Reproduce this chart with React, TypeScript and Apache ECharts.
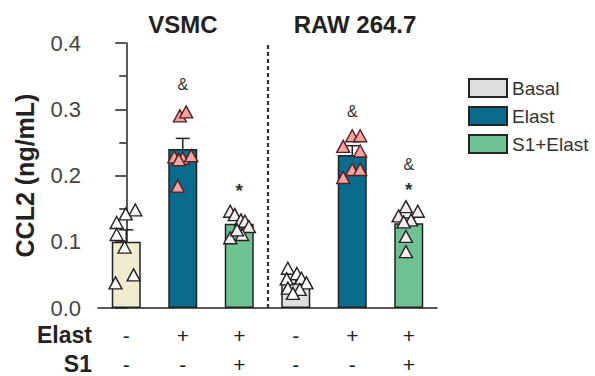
import React, { useEffect, useRef } from "react";
import * as echarts from "echarts";

// ---- data ----
const categories = ["VSMC Basal", "VSMC Elast", "VSMC S1+Elast", "RAW Basal", "RAW Elast", "RAW S1+Elast"];
const groupOf = ["Basal", "Elast", "S1+Elast", "Basal", "Elast", "S1+Elast"];
const barMeans = [0.100, 0.240, 0.127, 0.038, 0.231, 0.128];
const barSems = [0.018, 0.016, 0.006, 0.005, 0.014, 0.008];
const elastRow = ["-", "+", "+", "-", "+", "+"];
const s1Row = ["-", "-", "+", "-", "-", "+"];
const groupTitles = ["VSMC", "RAW 264.7"];
const legendNames = ["Basal", "Elast", "S1+Elast"];

// individual points (values) and horizontal jitter (in category units)
const vsmcBasalPts = [0.148, 0.142, 0.129, 0.111, 0.092, 0.050, 0.038];
const vsmcBasalJit = [0.16, -0.01, -0.17, -0.17, -0.03, 0.13, -0.19];
const vsmcElastPts = [0.290, 0.296, 0.228, 0.226, 0.230, 0.224, 0.184];
const vsmcElastJit = [-0.05, 0.06, -0.15, 0.0, 0.15, -0.07, -0.09];
const vsmcS1Pts = [0.146, 0.141, 0.133, 0.131, 0.123, 0.106, 0.111, 0.118];
const vsmcS1Jit = [-0.16, -0.08, 0.03, 0.10, 0.17, -0.16, 0.05, -0.04];
const rawBasalPts = [0.060, 0.052, 0.045, 0.044, 0.038, 0.030, 0.028, 0.022];
const rawBasalJit = [-0.14, 0.02, 0.10, -0.16, 0.19, -0.14, 0.07, -0.05];
const rawElastPts = [0.244, 0.260, 0.260, 0.237, 0.209, 0.209, 0.197];
const rawElastJit = [-0.16, 0.0, 0.14, 0.14, 0.0, 0.14, -0.16];
const rawS1Pts = [0.153, 0.146, 0.139, 0.133, 0.130, 0.108, 0.085];
const rawS1Jit = [-0.05, 0.16, -0.18, 0.04, -0.09, -0.05, -0.05];

const annoIndex = [1, 2, 4, 5, 5];
const annoValue = [0.338, 0.185, 0.297, 0.217, 0.186];
const annoText = ["&", "*", "&", "&", "*"];

// ---- styles ----
const groupColor: Record<string, string> = { Basal: "#dedede", Elast: "#0b6b8c", "S1+Elast": "#70c191" };
const vsmcBasalColor = "#f1ebd0";
const dark = "#222";
const FONT = "Liberation Sans, Arial, sans-serif";

export default function App() {
  const ref = useRef<HTMLDivElement>(null);
  useEffect(() => {
    if (!ref.current) return;
    const chart = echarts.init(ref.current, undefined, { renderer: "svg" });

    const barSeries = legendNames.map((name) => ({
      name,
      type: "bar",
      xAxisIndex: 0,
      yAxisIndex: 0,
      barWidth: 29,
      barGap: "-100%",
      itemStyle: { color: groupColor[name], borderColor: dark, borderWidth: 1.5 },
      data: barMeans.map((v, i) =>
        groupOf[i] !== name
          ? "-"
          : i === 0
          ? { value: v, itemStyle: { color: vsmcBasalColor } }
          : v
      ),
      z: 2,
    }));

    const ptsGroups = [
      { idx: 0, pts: vsmcBasalPts, jit: vsmcBasalJit, fill: "#ffffff", stroke: "#222" },
      { idx: 1, pts: vsmcElastPts, jit: vsmcElastJit, fill: "#f2a3a3", stroke: "#5a2020" },
      { idx: 2, pts: vsmcS1Pts, jit: vsmcS1Jit, fill: "#f7edf1", stroke: "#222" },
      { idx: 3, pts: rawBasalPts, jit: rawBasalJit, fill: "#ffffff", stroke: "#222" },
      { idx: 4, pts: rawElastPts, jit: rawElastJit, fill: "#f2a3a3", stroke: "#5a2020" },
      { idx: 5, pts: rawS1Pts, jit: rawS1Jit, fill: "#f7edf1", stroke: "#222" },
    ];

    const scatterSeries = ptsGroups.map((g, k) => ({
      name: "pts" + k,
      type: "scatter",
      xAxisIndex: 1,
      yAxisIndex: 0,
      symbol: "triangle",
      symbolSize: [13, 12],
      itemStyle: { color: g.fill, borderColor: g.stroke, borderWidth: 1.4, opacity: 1 },
      data: g.pts.map((v, j) => [g.idx + g.jit[j], v]),
      z: 5,
      ...(k === 0
        ? {
            markLine: {
              silent: true,
              symbol: "none",
              label: { show: false },
              lineStyle: { color: "#333", width: 2.2, type: [4, 3] },
              data: [{ xAxis: 2.5 }],
            },
          }
        : {}),
    }));

    const errorSeries = {
      name: "err",
      type: "custom",
      xAxisIndex: 0,
      yAxisIndex: 0,
      z: 4,
      data: barMeans.map((m, i) => [i, m, barSems[i]]),
      renderItem: (params: any, api: any) => {
        const x = api.value(0);
        const m = api.value(1);
        const s = api.value(2);
        const p1 = api.coord([x, m]);
        const p2 = api.coord([x, m + s]);
        const st = { stroke: dark, lineWidth: 1.5 };
        return {
          type: "group",
          children: [
            { type: "line", shape: { x1: p1[0], y1: p1[1], x2: p2[0], y2: p2[1] }, style: st },
            { type: "line", shape: { x1: p2[0] - 7, y1: p2[1], x2: p2[0] + 7, y2: p2[1] }, style: st },
          ],
        };
      },
    };

    const annoSeries = {
      name: "anno",
      type: "custom",
      xAxisIndex: 0,
      yAxisIndex: 0,
      z: 6,
      data: annoIndex.map((i, k) => [i, annoValue[k]]),
      renderItem: (params: any, api: any) => {
        const p = api.coord([api.value(0), api.value(1)]);
        const t = annoText[params.dataIndex];
        return {
          type: "text",
          x: p[0],
          y: p[1] + (t === "*" ? 5 : 0),
          style: {
            text: t,
            fontSize: t === "*" ? 19 : 16,
            fontWeight: t === "*" ? "bold" : "normal",
            fontFamily: FONT,
            fill: "#333",
            align: "center",
            verticalAlign: "middle",
          },
        };
      },
    };

    const axisLineStyle = { color: dark, width: 1.5 };

    chart.setOption({
      animation: false,
      textStyle: { fontFamily: FONT },
      grid: { left: 98, right: 158, top: 43, bottom: 68 },
      legend: {
        orient: "vertical",
        left: 463,
        top: 73,
        itemWidth: 38,
        itemHeight: 18,
        itemGap: 8,
        icon: "rect",
        data: legendNames,
        selectedMode: false,
        textStyle: { fontSize: 19, color: "#333", lineHeight: 18 },
      },
      xAxis: [
        {
          type: "category",
          data: categories,
          axisLine: { lineStyle: axisLineStyle },
          axisTick: { alignWithLabel: true, length: 8, lineStyle: axisLineStyle },
          axisLabel: {
            interval: 0,
            margin: 13,
            formatter: (_v: string, i: number) => `{s|${elastRow[i]}}\n{s|${s1Row[i]}}`,
            rich: { s: { fontSize: 21, lineHeight: 29, color: dark, fontFamily: FONT } },
          },
        },
        { type: "value", min: -0.5, max: 5.5, show: false },
      ],
      yAxis: {
        type: "value",
        min: 0,
        max: 0.4,
        interval: 0.1,
        offset: 1,
        name: "CCL2 (ng/mL)",
        nameLocation: "middle",
        nameRotate: 90,
        nameGap: 60,
        nameTextStyle: { fontSize: 25, fontWeight: "bold", color: dark },
        axisLine: { show: true, lineStyle: axisLineStyle },
        axisTick: { show: true, length: 11, lineStyle: axisLineStyle },
        minorTick: { show: true, splitNumber: 2, length: 7, lineStyle: axisLineStyle },
        splitLine: { show: false },
        axisLabel: { fontSize: 22, color: "#444", margin: 16, formatter: (v: number) => v.toFixed(1) },
      },
      graphic: [
        {
          type: "text",
          x: 183,
          y: 24,
          style: { text: groupTitles[0], fontSize: 24, fontWeight: "bold", fill: dark, align: "center", verticalAlign: "middle", fontFamily: FONT },
        },
        {
          type: "text",
          x: 355,
          y: 24,
          style: { text: groupTitles[1], fontSize: 24, fontWeight: "bold", fill: dark, align: "center", verticalAlign: "middle", fontFamily: FONT },
        },
        {
          type: "text",
          x: 92,
          y: 335,
          style: { text: "Elast", fontSize: 23, fontWeight: "bold", fill: dark, align: "right", verticalAlign: "middle", fontFamily: FONT },
        },
        {
          type: "text",
          x: 92,
          y: 364,
          style: { text: "S1", fontSize: 23, fontWeight: "bold", fill: dark, align: "right", verticalAlign: "middle", fontFamily: FONT },
        },
      ],
      series: [...barSeries, errorSeries, ...scatterSeries, annoSeries],
    });

    return () => chart.dispose();
  }, []);

  return <div ref={ref} style={{ width: 595, height: 376, position: "absolute", left: 0, top: 0 }} />;
}
